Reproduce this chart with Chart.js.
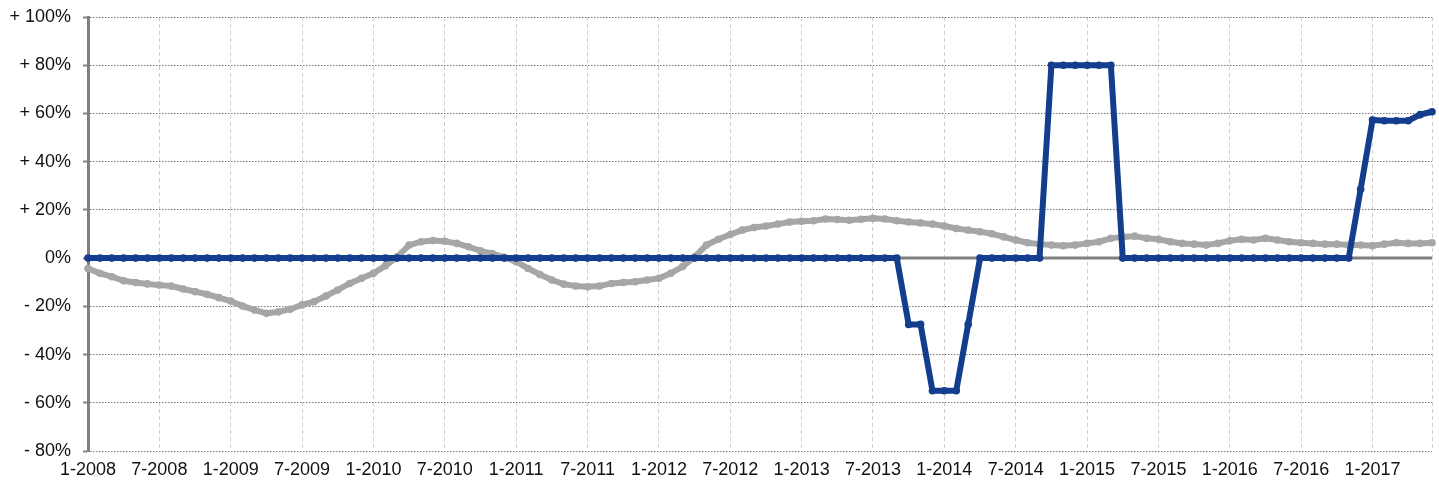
<!DOCTYPE html>
<html>
<head>
<meta charset="utf-8">
<script src="https://cdn.jsdelivr.net/npm/chart.js@4"></script>
<style>
  html, body { margin: 0; padding: 0; background: #fff; }
  #wrap { width: 1439px; height: 483px; position: relative; }
</style>
</head>
<body>
<div id="wrap"><canvas id="graphique"></canvas></div>
<script>
// Mois : 1-2008 ... 6-2017
const premiereAnnee = 2008;
const nbMois = 114;
const mois = [];
for (let i = 0; i < nbMois; i++) {
  mois.push(`${(i % 12) + 1}-${premiereAnnee + Math.floor(i / 12)}`);
}

// Série bleue (en %)
const serieBleue = [
  0, 0, 0, 0, 0, 0, 0, 0, 0, 0, 0, 0,
  0, 0, 0, 0, 0, 0, 0, 0, 0, 0, 0, 0,
  0, 0, 0, 0, 0, 0, 0, 0, 0, 0, 0, 0,
  0, 0, 0, 0, 0, 0, 0, 0, 0, 0, 0, 0,
  0, 0, 0, 0, 0, 0, 0, 0, 0, 0, 0, 0,
  0, 0, 0, 0, 0, 0, 0, 0, 0, -27.5, -27.5, -55,
  -55, -55, -27.5, 0, 0, 0, 0, 0, 0, 80, 80, 80,
  80, 80, 80, 0, 0, 0, 0, 0, 0, 0, 0, 0,
  0, 0, 0, 0, 0, 0, 0, 0, 0, 0, 0, 28.6,
  57.3, 57, 57, 57, 59.5, 60.7
];

// Série grise (en %)
const serieGrise = [
  -4.3, -6.3, -7.7, -9.4, -10.1, -10.7, -11.2, -11.6, -12.8, -13.9, -15, -16.4,
  -17.8, -19.9, -21.5, -22.9, -22.3, -21.2, -19.4, -18.1, -15.7, -13.2, -10.5, -8.4,
  -6.3, -3.2, 0.5, 5.4, 6.8, 7.3, 7, 6.1, 4.7, 3.0, 1.9, 0.3,
  -1.5, -4.3, -6.8, -9.1, -10.8, -11.6, -11.9, -11.6, -10.5, -10.1, -9.8, -9.1,
  -8.4, -6.3, -3.5, 0.5, 5.4, 7.8, 9.8, 11.6, 12.7, 13.3, 14.1, 15,
  15.3, 15.5, 16.2, 16, 15.7, 16.1, 16.5, 16.2, 15.5, 15, 14.6, 14.1,
  13.3, 12.3, 11.6, 10.9, 10.1, 8.8, 7.5, 6.4, 5.8, 5.4, 5.1, 5.4,
  6.1, 6.8, 8.2, 8.8, 9.1, 8.2, 7.8, 6.8, 6.1, 5.8, 5.4, 6.1,
  7.2, 7.8, 7.5, 8.2, 7.5, 6.8, 6.4, 6.1, 5.8, 5.8, 5.4, 5.4,
  5.1, 5.8, 6.4, 6.1, 6.1, 6.4
];

const yMin = -80, yMax = 100, yPas = 20;
const police = "'Liberation Sans', Arial, Helvetica, sans-serif";

// Ligne du zéro, pleine et plus épaisse
const ligneZero = {
  id: 'ligneZero',
  beforeDatasetsDraw(chart) {
    const { ctx, chartArea, scales: { y } } = chart;
    const py = y.getPixelForValue(0);
    ctx.save();
    ctx.strokeStyle = '#808080';
    ctx.lineWidth = 3;
    ctx.beginPath();
    ctx.moveTo(chartArea.left, py);
    ctx.lineTo(chartArea.right, py);
    ctx.stroke();
    ctx.restore();
  }
};

new Chart(document.getElementById('graphique'), {
  type: 'line',
  data: {
    labels: mois,
    datasets: [
      {
        data: serieBleue,
        borderColor: '#143e8d',
        backgroundColor: '#143e8d',
        borderWidth: 6,
        pointRadius: 3.8,
        pointBorderWidth: 0,
        tension: 0
      },
      {
        data: serieGrise,
        borderColor: '#a6a6a6',
        backgroundColor: '#a6a6a6',
        borderWidth: 6,
        pointRadius: 3.8,
        pointBorderWidth: 0,
        tension: 0
      }
    ]
  },
  options: {
    responsive: true,
    maintainAspectRatio: false,
    animation: false,
    layout: { padding: { top: 17, right: 7, left: 0, bottom: 0 } },
    plugins: { legend: { display: false }, tooltip: { enabled: false } },
    scales: {
      x: {
        offset: false,
        afterFit: s => { s.height = 32; s.paddingLeft = 0; s.paddingRight = 0; },
        ticks: {
          autoSkip: false,
          maxRotation: 0,
          padding: 8,
          color: '#111',
          font: { family: police, size: 18 },
          callback: (val, i) => (i % 6 === 0 ? mois[i] : '')
        },
        grid: {
          drawTicks: false,
          color: c => (c.index % 6 === 0 || c.index === nbMois - 1 ? '#cfcfcf' : 'rgba(0,0,0,0)'),
          lineWidth: 1,
          borderDash: [4, 3]
        },
        border: { display: false, dash: [4, 3] }
      },
      y: {
        min: yMin,
        max: yMax,
        afterFit: s => { s.width = 88; s.paddingTop = 0; s.paddingBottom = 0; },
        ticks: {
          stepSize: yPas,
          padding: 12,
          color: '#111',
          font: { family: police, size: 18 },
          callback: v => (v > 0 ? `+ ${v}%` : v < 0 ? `- ${Math.abs(v)}%` : '0%')
        },
        grid: {
          color: c => (c.tick && c.tick.value === 0 ? 'rgba(0,0,0,0)' : '#7a7a7a'),
          lineWidth: 1,
          borderDash: [1.5, 1.5],
          tickLength: 5,
          tickColor: '#808080',
          tickWidth: 2,
          tickBorderDash: []
        },
        border: { display: true, color: '#808080', width: 3, dash: [1.5, 1.5] }
      }
    }
  },
  plugins: [ligneZero]
});
</script>
</body>
</html>
